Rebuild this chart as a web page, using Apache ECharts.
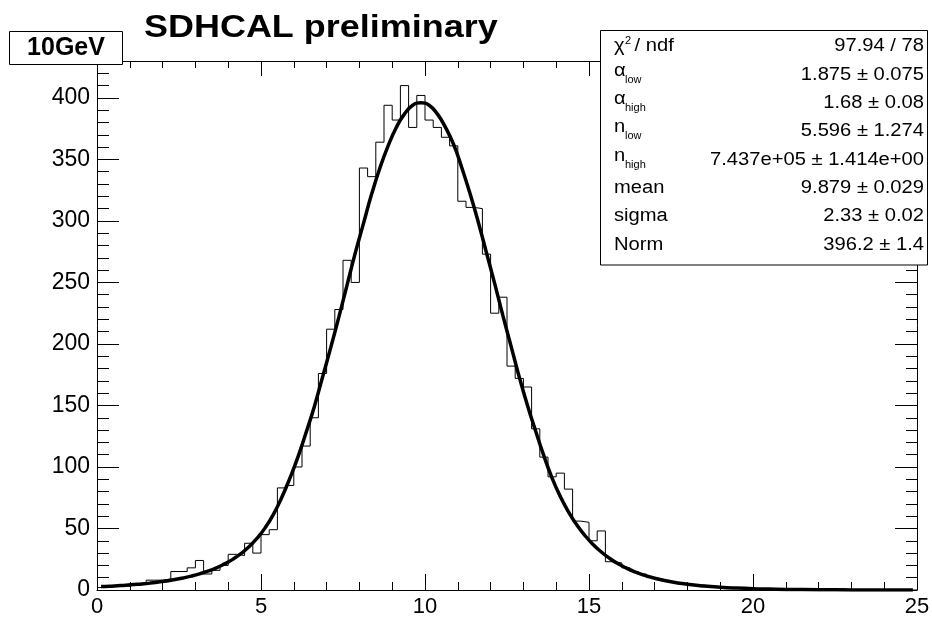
<!DOCTYPE html>
<html>
<head>
<meta charset="utf-8">
<script src="https://cdn.jsdelivr.net/npm/echarts@6/dist/echarts.min.js"></script>
<style>
html,body{margin:0;padding:0;background:#fff;}
#chart{width:932px;height:621px;}
</style>
</head>
<body>
<div id="chart"></div>
<script>
// ---- Data ----
const binStart = 0;
const binWidth = 0.25;
const counts = [
  2, 3, 4, 3, 5, 6, 8, 8, 9, 15,
  15, 18, 24, 13, 16, 20, 29, 28, 38, 30,
  45, 49, 83, 85, 100, 117, 140, 176, 212, 228,
  268, 250, 343, 336, 364, 394, 382, 410, 376, 402,
  382, 376, 368, 361, 316, 311, 310, 273, 225, 238,
  182, 172, 165, 131, 108, 92, 95, 82, 56, 55,
  40, 48, 23, 22, 18, 15, 13, 10, 9, 7,
  6, 5, 4, 4, 3, 2, 2, 2, 1, 1,
  1, 0, 1, 0, 0, 1, 0, 0, 0, 0,
  1, 0, 0, 0, 0, 0, 0, 0, 0, 0
];
const fitX = [
  0.125, 0.375, 0.625, 0.875, 1.125, 1.375, 1.625, 1.875, 2.125, 2.375,
  2.625, 2.875, 3.125, 3.375, 3.625, 3.875, 4.125, 4.375, 4.625, 4.875,
  5.125, 5.375, 5.625, 5.875, 6.125, 6.375, 6.625, 6.875, 7.125, 7.375,
  7.625, 7.875, 8.125, 8.375, 8.625, 8.875, 9.125, 9.375, 9.625, 9.875,
  10.125, 10.375, 10.625, 10.875, 11.125, 11.375, 11.625, 11.875, 12.125, 12.375,
  12.625, 12.875, 13.125, 13.375, 13.625, 13.875, 14.125, 14.375, 14.625, 14.875,
  15.125, 15.375, 15.625, 15.875, 16.125, 16.375, 16.625, 17, 17.5, 18,
  18.5, 19, 19.5, 20, 20.5, 21, 22, 23, 24, 24.875
];
const fitY = [
  2.8, 3.1, 3.5, 3.9, 4.4, 4.9, 5.6, 6.5, 7.4, 8.5,
  9.8, 11.3, 13.1, 15.3, 17.8, 21.0, 24.7, 29.3, 34.9, 41.9,
  50.5, 61.3, 74.8, 90.5, 108, 128, 149, 173, 197, 222,
  248, 274, 298, 322, 343, 361, 376, 387, 394, 396,
  394, 387, 376, 362, 343, 322, 299, 274, 249, 223,
  198, 173, 150, 129, 109, 91, 76, 63.5, 53, 44.3,
  37, 30.9, 25.8, 21.5, 18, 15, 12.5, 9.6, 6.7, 4.7,
  3.3, 2.3, 1.6, 1.1, 0.8, 0.5, 0.3, 0.1, 0.05, 0.03
];
const xMin = 0, xMax = 25, xStep = 5;
const yMin = 0, yMax = 430, yStep = 50, yMinorStep = 10;

const titleText = 'SDHCAL preliminary';
const histName = '10GeV';
const statMain = ['\u03C7', '\u03B1', '\u03B1', 'n', 'n', 'mean', 'sigma', 'Norm'];
const statSup  = ['2', '', '', '', '', '', '', ''];
const statRest = [' / ndf', '', '', '', '', '', '', ''];
const statSub  = ['', 'low', 'high', 'low', 'high', '', '', ''];
const statValues = ['97.94 / 78', '1.875 \u00B1 0.075', '1.68 \u00B1 0.08', '5.596 \u00B1 1.274',
  '7.437e+05 \u00B1 1.414e+00', '9.879 \u00B1 0.029', '2.33 \u00B1 0.02', '396.2 \u00B1 1.4'];

// ---- Build series data ----
const histData = counts.map((c, i) => [binStart + i * binWidth, c]);
histData.push([binStart + counts.length * binWidth, counts[counts.length - 1]]);
const fitData = fitX.map((x, i) => [x, fitY[i]]);

const FONT = '"Liberation Sans", Arial, Helvetica, sans-serif';
const BLACK = '#000';

function xAx(pos, showLabel, majorLen, minorLen) {
  return {
    type: 'value', position: pos, min: xMin, max: xMax, interval: xStep,
    axisLine: { show: true, onZero: false, lineStyle: { color: BLACK, width: 1 } },
    axisTick: { show: true, inside: true, length: majorLen, lineStyle: { color: BLACK, width: 1 } },
    minorTick: { show: true, splitNumber: 5, length: minorLen, lineStyle: { color: BLACK, width: 1 } },
    axisLabel: { show: showLabel, color: BLACK, fontSize: 22, fontFamily: FONT, margin: 6 },
    splitLine: { show: false }, minorSplitLine: { show: false }
  };
}
function yAx(pos, interval, showLine, showLabel, len) {
  return {
    type: 'value', position: pos, min: yMin, max: yMax, interval: interval,
    axisLine: { show: showLine, onZero: false, lineStyle: { color: BLACK, width: 1 } },
    axisTick: { show: true, inside: true, length: len, lineStyle: { color: BLACK, width: 1 } },
    axisLabel: { show: showLabel, color: BLACK, fontSize: 23, fontFamily: FONT, margin: 7,
      showMaxLabel: false, formatter: v => (v % yStep === 0 ? String(v) : '') },
    splitLine: { show: false }
  };
}

// ---- Graphic overlay (title, histogram name, stats box) ----
const graphics = [];
graphics.push({ type: 'text', x: 144, y: 28, scaleX: 1.16, z: 100,
  style: { text: titleText, fontSize: 31, fontWeight: 'bold', fontFamily: FONT, fill: BLACK,
    align: 'left', verticalAlign: 'middle' } });
graphics.push({ type: 'rect', z: 100, shape: { x: 9.5, y: 31.5, width: 113, height: 33 },
  style: { fill: '#fff', stroke: BLACK, lineWidth: 1 } });
graphics.push({ type: 'text', x: 66, y: 48.5, z: 101,
  style: { text: histName, fontSize: 25, fontWeight: 'bold', fontFamily: FONT, fill: BLACK,
    align: 'center', verticalAlign: 'middle' } });
graphics.push({ type: 'rect', z: 100, shape: { x: 600.5, y: 30.5, width: 327, height: 234.5 },
  style: { fill: '#fff', stroke: BLACK, lineWidth: 1 } });
const rowY0 = 46.5, rowH = 28.3, labX = 614, valX = 924, SX = 1.12;
statMain.forEach((m, i) => {
  const y = rowY0 + i * rowH;
  graphics.push({ type: 'text', x: labX, y: statSub[i] ? y - 4 : y, scaleX: SX, z: 101,
    style: { text: m, fontSize: 18, fontFamily: FONT, fill: BLACK, align: 'left', verticalAlign: 'middle' } });
  if (statSup[i]) {
    graphics.push({ type: 'text', x: labX + 11, y: y - 6, z: 101,
      style: { text: statSup[i], fontSize: 11, fontFamily: FONT, fill: BLACK, align: 'left', verticalAlign: 'middle' } });
  }
  if (statRest[i]) {
    graphics.push({ type: 'text', x: labX + 15, y: y, scaleX: SX, z: 101,
      style: { text: statRest[i], fontSize: 18, fontFamily: FONT, fill: BLACK, align: 'left', verticalAlign: 'middle' } });
  }
  if (statSub[i]) {
    graphics.push({ type: 'text', x: labX + 11, y: y + 5, z: 101,
      style: { text: statSub[i], fontSize: 11, fontFamily: FONT, fill: BLACK, align: 'left', verticalAlign: 'middle' } });
  }
  graphics.push({ type: 'text', x: valX, y: y, scaleX: SX, z: 101,
    style: { text: statValues[i], fontSize: 18, fontFamily: FONT, fill: BLACK, align: 'right', verticalAlign: 'middle' } });
});

const chart = echarts.init(document.getElementById('chart'), null, { renderer: 'canvas' });
chart.setOption({
  backgroundColor: '#fff',
  animation: false,
  grid: { left: 97, right: 15, top: 61, bottom: 31, containLabel: false, outerBoundsMode: 'none' },
  xAxis: [ xAx('bottom', true, 16, 8), xAx('top', false, 15, 7) ],
  yAxis: [
    yAx('left', yStep, true, true, 22),
    yAx('left', yMinorStep, false, false, 12),
    yAx('right', yStep, true, false, 22),
    yAx('right', yMinorStep, false, false, 11)
  ],
  series: [
    { name: 'hist', type: 'line', xAxisIndex: 0, yAxisIndex: 0, step: 'end', data: histData,
      symbol: 'none', lineStyle: { color: BLACK, width: 1 }, z: 2 },
    { name: 'fit', type: 'line', xAxisIndex: 0, yAxisIndex: 0, data: fitData, smooth: true,
      symbol: 'none', lineStyle: { color: BLACK, width: 3.5 }, z: 3 }
  ],
  graphic: { elements: graphics }
});
</script>
</body>
</html>
